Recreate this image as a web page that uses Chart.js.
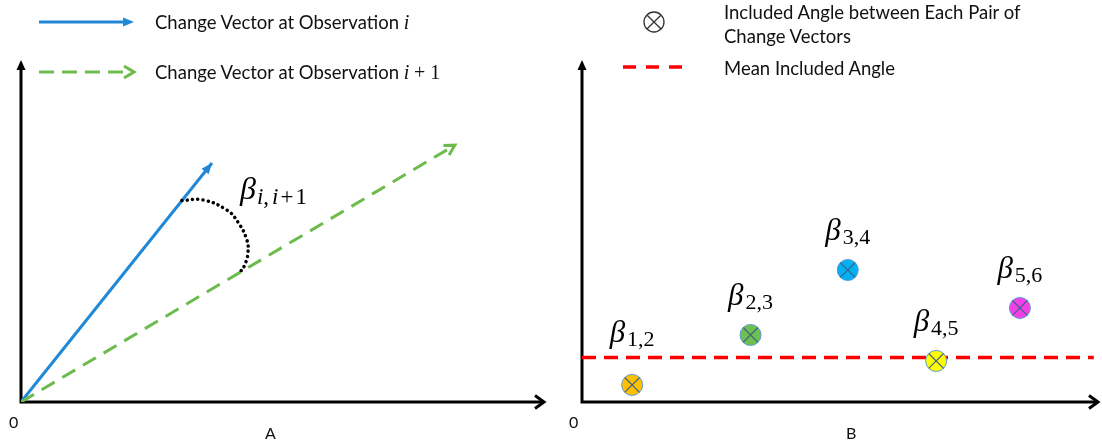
<!DOCTYPE html>
<html>
<head>
<meta charset="utf-8">
<script src="https://cdn.jsdelivr.net/npm/chart.js@4.4.1/dist/chart.umd.min.js"></script>
<style>
  body { margin: 0; background: #fff; }
  #wrap { position: relative; width: 1102px; height: 443px; overflow: hidden; font-family: Lato, "Open Sans", sans-serif; color: #111; }
  canvas { position: absolute; top: 0; }
  #chartA { left: 0; }
  #chartB { left: 562px; }
  .t { position: absolute; font-size: 18.5px; line-height: 22px; white-space: nowrap; }
  .m { font-family: "Liberation Serif", serif; font-style: italic; font-size: 20px; }
  .mu { font-family: "Liberation Serif", serif; font-size: 20px; }
  .ax { position: absolute; font-size: 16px; line-height: 18px; }
</style>
</head>
<body>
<div id="wrap">
  <canvas id="chartA" width="562" height="443"></canvas>
  <canvas id="chartB" width="540" height="443"></canvas>

  <div class="t" style="left:155px; top:11px;">Change Vector at Observation <span class="m">i</span></div>
  <div class="t" style="left:155px; top:61px;">Change Vector at Observation <span class="m">i</span> <span class="mu">+ 1</span></div>
  <div class="t" style="left:724px; top:1px;">Included Angle between Each Pair of</div>
  <div class="t" style="left:724px; top:25px;">Change Vectors</div>
  <div class="t" style="left:724px; top:57px;">Mean Included Angle</div>

  <div class="ax" style="left:9px; top:413px;">0</div>
  <div class="ax" style="left:265px; top:424px;">A</div>
  <div class="ax" style="left:569px; top:413px;">0</div>
  <div class="ax" style="left:846px; top:424px;">B</div>
</div>

<script>
// panel A: two change vectors and the included angle between them
const vectorI = [[0, 0], [3.645, 6.99]];
const vectorNext = [[0, 0], [8.28, 7.51]];
const arcX = [3.07, 3.47, 3.93, 4.14, 4.31, 4.33, 4.27, 4.18];
const arcY = [5.89, 5.91, 5.61, 5.26, 4.74, 4.36, 4.01, 3.79];

// panel B: included angle for each pair of observations
const pairNames = ['1,2', '2,3', '3,4', '4,5', '5,6'];
const pairX = [0.97, 3.26, 5.14, 6.85, 8.47];
const pairAngle = [0.50, 1.96, 3.86, 1.20, 2.75];
const pairColors = ['#ffc000', '#70c04f', '#00b0f0', '#ffff00', '#f43ee8'];
const meanAngle = 1.3;

const BLUE = '#2188d8';
const GREEN = '#6cbb4c';

function toPoints(arr) { return arr.map(p => ({ x: p[0], y: p[1] })); }

function filledHead(ctx, x, y, ang, len, half, color) {
  ctx.save();
  ctx.translate(x, y);
  ctx.rotate(ang);
  ctx.fillStyle = color;
  ctx.beginPath();
  ctx.moveTo(0, 0);
  ctx.lineTo(-len, -half);
  ctx.lineTo(-len, half);
  ctx.closePath();
  ctx.fill();
  ctx.restore();
}

function openHead(ctx, x, y, ang, len, half, color, w) {
  ctx.save();
  ctx.translate(x, y);
  ctx.rotate(ang);
  ctx.strokeStyle = color;
  ctx.lineWidth = w;
  ctx.lineJoin = 'miter';
  ctx.setLineDash([]);
  ctx.beginPath();
  ctx.moveTo(-len, -half);
  ctx.lineTo(0, 0);
  ctx.lineTo(-len, half);
  ctx.stroke();
  ctx.restore();
}

// axes with arrows, drawn under the datasets
const axesPlugin = {
  id: 'axes',
  beforeDatasetsDraw(chart) {
    const ctx = chart.ctx;
    const a = chart.chartArea;
    ctx.save();
    ctx.strokeStyle = '#000';
    ctx.lineWidth = 3;
    ctx.beginPath();
    ctx.moveTo(a.left, a.bottom + 1.5);
    ctx.lineTo(a.left, a.top + 8);
    ctx.moveTo(a.left - 1.5, a.bottom);
    ctx.lineTo(a.right - 2, a.bottom);
    ctx.stroke();
    filledHead(ctx, a.left, a.top, -Math.PI / 2, 10, 4.5, '#000');
    openHead(ctx, a.right - 1, a.bottom, 0, 9, 6.5, '#000', 3);
    ctx.restore();
  }
};

// arrow heads on the vectors + legend symbols + beta label, panel A
const panelAPlugin = {
  id: 'panelA',
  afterDatasetsDraw(chart) {
    const ctx = chart.ctx;
    chart.data.datasets.forEach((ds, i) => {
      if (!ds.arrow) return;
      const pts = chart.getDatasetMeta(i).data;
      const p0 = pts[pts.length - 2], p1 = pts[pts.length - 1];
      const ang = Math.atan2(p1.y - p0.y, p1.x - p0.x);
      if (ds.arrow === 'filled') filledHead(ctx, p1.x, p1.y, ang, 11, 4.5, ds.borderColor);
      else openHead(ctx, p1.x, p1.y, ang, 10, 5.5, ds.borderColor, 3);
    });

    // legend symbols
    ctx.save();
    ctx.lineWidth = 3;
    ctx.strokeStyle = BLUE;
    ctx.beginPath();
    ctx.moveTo(39, 22);
    ctx.lineTo(124, 22);
    ctx.stroke();
    filledHead(ctx, 134, 22, 0, 11, 4.5, BLUE);
    ctx.strokeStyle = GREEN;
    ctx.setLineDash([15, 8]);
    ctx.beginPath();
    ctx.moveTo(39, 72);
    ctx.lineTo(128, 72);
    ctx.stroke();
    ctx.setLineDash([]);
    openHead(ctx, 134, 72, 0, 10, 6, GREEN, 3);

    // beta label
    const x = chart.scales.x.getPixelForValue(4.18);
    const y = chart.scales.y.getPixelForValue(5.94);
    ctx.fillStyle = '#000';
    ctx.textBaseline = 'alphabetic';
    let cx = x;
    ctx.font = 'italic 32px "Liberation Serif"';
    ctx.fillText('β', cx, y);
    cx += ctx.measureText('β').width + 1;
    const parts = [['i', true, 0], [',', false, 3], ['i', true, 2], ['+', false, 2], ['1', false, 0]];
    parts.forEach(p => {
      ctx.font = (p[1] ? 'italic ' : '') + '23px "Liberation Serif"';
      ctx.fillText(p[0], cx, y + 5);
      cx += ctx.measureText(p[0]).width + p[2];
    });
    ctx.restore();
  }
};

// beta labels over each marker + legend symbols, panel B
const panelBPlugin = {
  id: 'panelB',
  afterDatasetsDraw(chart) {
    const ctx = chart.ctx;
    const pts = chart.getDatasetMeta(1).data;
    const lineY = chart.scales.y.getPixelForValue(meanAngle);
    ctx.save();
    ctx.fillStyle = '#000';
    ctx.textBaseline = 'alphabetic';
    pts.forEach((pt, i) => {
      ctx.font = 'italic 31px "Liberation Serif"';
      const wb = ctx.measureText('β').width;
      ctx.font = '22px "Liberation Serif"';
      const ws = ctx.measureText(pairNames[i]).width;
      const x0 = pt.x - (wb + ws + 2) / 2;
      // keep the label clear of the mean line
      const bottom = Math.min(pt.y - 24, lineY - 10);
      const yb = bottom - 6;
      ctx.font = 'italic 31px "Liberation Serif"';
      ctx.fillText('β', x0, yb);
      ctx.font = '22px "Liberation Serif"';
      ctx.fillText(pairNames[i], x0 + wb + 2, yb + 4);
    });

    // legend symbols
    ctx.strokeStyle = '#333';
    ctx.lineWidth = 1.3;
    ctx.beginPath();
    ctx.arc(92, 22, 10, 0, Math.PI * 2);
    const d = 10 * Math.SQRT1_2;
    ctx.moveTo(92 - d, 22 - d);
    ctx.lineTo(92 + d, 22 + d);
    ctx.moveTo(92 - d, 22 + d);
    ctx.lineTo(92 + d, 22 - d);
    ctx.stroke();
    ctx.strokeStyle = '#ff0000';
    ctx.lineWidth = 3.5;
    ctx.setLineDash([13, 10]);
    ctx.beginPath();
    ctx.moveTo(61, 67);
    ctx.lineTo(123, 67);
    ctx.stroke();
    ctx.restore();
  }
};

const hiddenScales = {
  x: { type: 'linear', min: 0, max: 10, display: false },
  y: { type: 'linear', min: 0, max: 10, display: false }
};

const baseOptions = {
  responsive: false,
  animation: false,
  devicePixelRatio: 1,
  plugins: { legend: { display: false }, tooltip: { enabled: false } },
  scales: hiddenScales
};

new Chart(document.getElementById('chartA').getContext('2d'), {
  type: 'scatter',
  data: {
    datasets: [
      {
        data: arcX.map((x, i) => ({ x: x, y: arcY[i] })),
        showLine: true, borderColor: '#000', borderWidth: 3.5, borderDash: [0.1, 5.2],
        borderCapStyle: 'round', tension: 0.45, pointRadius: 0
      },
      {
        data: toPoints(vectorNext), showLine: true, borderColor: GREEN, borderWidth: 3,
        borderDash: [15, 9], pointRadius: 0, arrow: 'open'
      },
      {
        data: toPoints(vectorI), showLine: true, borderColor: BLUE, borderWidth: 3,
        pointRadius: 0, arrow: 'filled'
      }
    ]
  },
  options: Object.assign({}, baseOptions, {
    layout: { autoPadding: false, padding: { left: 21, top: 60, right: 17, bottom: 41 } }
  }),
  plugins: [axesPlugin, panelAPlugin]
});

new Chart(document.getElementById('chartB').getContext('2d'), {
  type: 'scatter',
  data: {
    datasets: [
      {
        data: [{ x: 0, y: meanAngle }, { x: 9.9, y: meanAngle }],
        showLine: true, borderColor: '#ff0000', borderWidth: 3.5, borderDash: [14, 8],
        pointRadius: 0, order: 3
      },
      {
        data: pairX.map((x, i) => ({ x: x, y: pairAngle[i] })),
        pointStyle: 'circle', pointRadius: 10.5, backgroundColor: pairColors,
        borderColor: '#5b9bd5', borderWidth: 1, order: 2
      },
      {
        data: pairX.map((x, i) => ({ x: x, y: pairAngle[i] })),
        pointStyle: 'crossRot', pointRadius: 10.5, borderColor: '#41628a', borderWidth: 1.2,
        order: 1
      }
    ]
  },
  options: Object.assign({}, baseOptions, {
    layout: { autoPadding: false, padding: { left: 20, top: 60, right: 3, bottom: 41 } }
  }),
  plugins: [axesPlugin, panelBPlugin]
});
</script>
</body>
</html>
